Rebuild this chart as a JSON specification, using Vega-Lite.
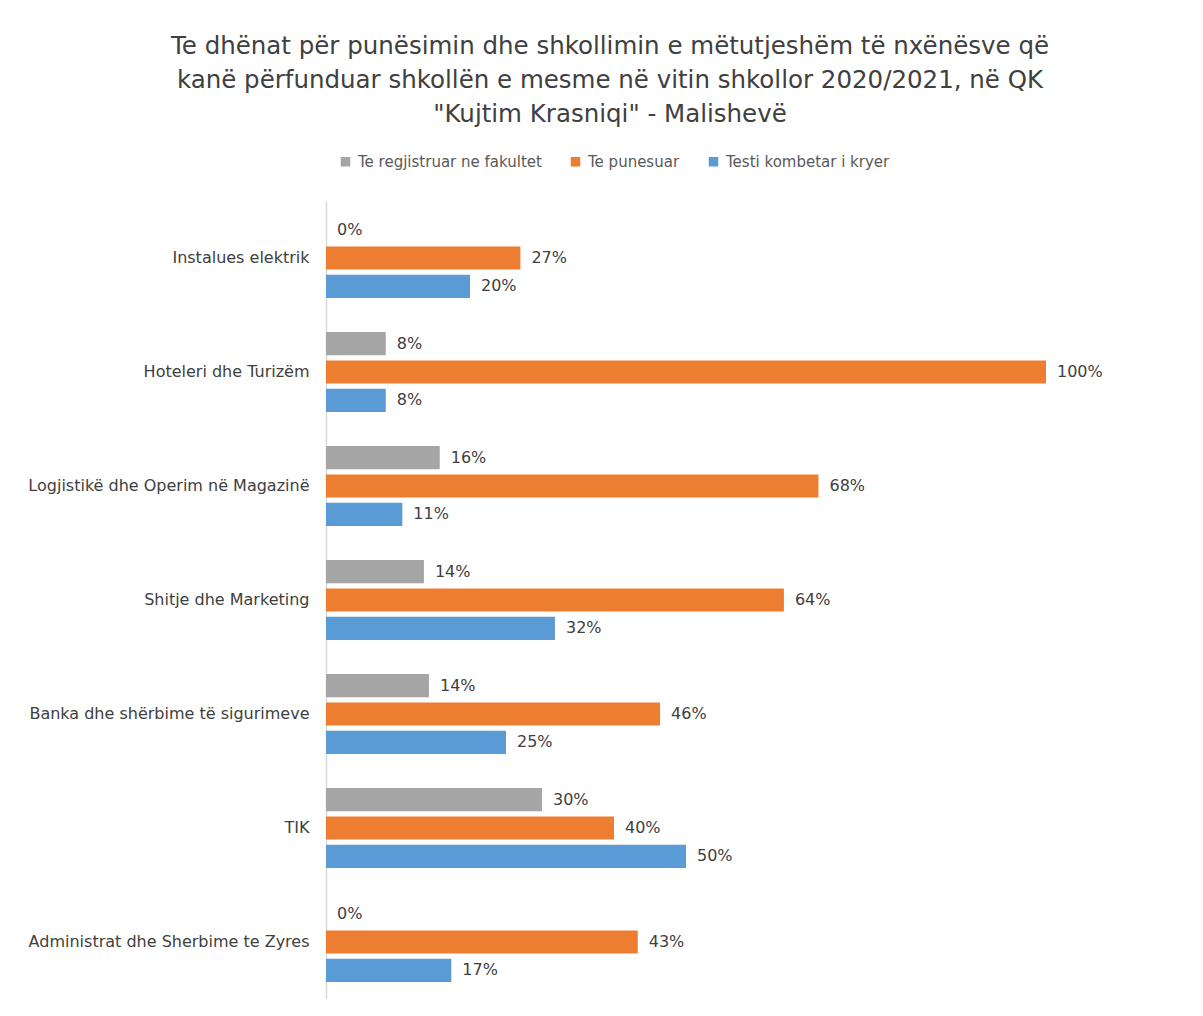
{
  "$schema": "https://vega.github.io/schema/vega-lite/v6.json",
  "width": 720,
  "height": 798,
  "autosize": "none",
  "padding": {"left": 326, "top": 201, "right": 157, "bottom": 17},
  "background": "#ffffff",
  "title": {
    "text": ["Te dhënat për punësimin dhe shkollimin e mëtutjeshëm të nxënësve që", "kanë përfunduar shkollën e mesme në vitin shkollor 2020/2021, në QK", "\"Kujtim Krasniqi\" - Malishevë"],
    "font": "DejaVu Sans",
    "fontSize": 24.5,
    "fontWeight": "normal",
    "color": "#404040",
    "lineHeight": 34,
    "anchor": "middle",
    "dx": -76,
    "offset": 27
  },
  "data": {
    "values": [
      {"category": "Instalues elektrik", "series": "Te regjistruar ne fakultet", "value": 0},
      {"category": "Instalues elektrik", "series": "Te punesuar", "value": 0.27},
      {"category": "Instalues elektrik", "series": "Testi kombetar i kryer", "value": 0.20},
      {"category": "Hoteleri dhe Turizëm", "series": "Te regjistruar ne fakultet", "value": 0.083},
      {"category": "Hoteleri dhe Turizëm", "series": "Te punesuar", "value": 1.0},
      {"category": "Hoteleri dhe Turizëm", "series": "Testi kombetar i kryer", "value": 0.083},
      {"category": "Logjistikë dhe Operim në Magazinë", "series": "Te regjistruar ne fakultet", "value": 0.158},
      {"category": "Logjistikë dhe Operim në Magazinë", "series": "Te punesuar", "value": 0.684},
      {"category": "Logjistikë dhe Operim në Magazinë", "series": "Testi kombetar i kryer", "value": 0.106},
      {"category": "Shitje dhe Marketing", "series": "Te regjistruar ne fakultet", "value": 0.136},
      {"category": "Shitje dhe Marketing", "series": "Te punesuar", "value": 0.636},
      {"category": "Shitje dhe Marketing", "series": "Testi kombetar i kryer", "value": 0.318},
      {"category": "Banka dhe shërbime të sigurimeve", "series": "Te regjistruar ne fakultet", "value": 0.143},
      {"category": "Banka dhe shërbime të sigurimeve", "series": "Te punesuar", "value": 0.464},
      {"category": "Banka dhe shërbime të sigurimeve", "series": "Testi kombetar i kryer", "value": 0.25},
      {"category": "TIK", "series": "Te regjistruar ne fakultet", "value": 0.30},
      {"category": "TIK", "series": "Te punesuar", "value": 0.40},
      {"category": "TIK", "series": "Testi kombetar i kryer", "value": 0.50},
      {"category": "Administrat dhe Sherbime te Zyres", "series": "Te regjistruar ne fakultet", "value": 0},
      {"category": "Administrat dhe Sherbime te Zyres", "series": "Te punesuar", "value": 0.433},
      {"category": "Administrat dhe Sherbime te Zyres", "series": "Testi kombetar i kryer", "value": 0.174}
    ]
  },
  "encoding": {
    "y": {
      "field": "category",
      "type": "nominal",
      "sort": ["Instalues elektrik", "Hoteleri dhe Turizëm", "Logjistikë dhe Operim në Magazinë", "Shitje dhe Marketing", "Banka dhe shërbime të sigurimeve", "TIK", "Administrat dhe Sherbime te Zyres"],
      "scale": {"paddingInner": 0.3, "paddingOuter": 0.15},
      "axis": {
        "title": null,
        "ticks": false,
        "labelFont": "DejaVu Sans",
        "labelFontSize": 16,
        "labelColor": "#404040",
        "labelPadding": 17,
        "labelLimit": 400,
        "domainColor": "#d9d9d9",
        "domainWidth": 1.5
      }
    },
    "yOffset": {
      "field": "series",
      "type": "nominal",
      "sort": ["Te regjistruar ne fakultet", "Te punesuar", "Testi kombetar i kryer"],
      "scale": {"paddingInner": 0.18, "paddingOuter": 0}
    },
    "x": {
      "field": "value",
      "type": "quantitative",
      "scale": {"domain": [0, 1]},
      "axis": null
    }
  },
  "layer": [
    {
      "mark": {"type": "bar"},
      "encoding": {
        "color": {
          "field": "series",
          "type": "nominal",
          "sort": ["Te regjistruar ne fakultet", "Te punesuar", "Testi kombetar i kryer"],
          "scale": {
            "domain": ["Te regjistruar ne fakultet", "Te punesuar", "Testi kombetar i kryer"],
            "range": ["#a5a5a5", "#ed7d31", "#5b9bd5"]
          },
          "legend": {
            "title": null,
            "orient": "none",
            "legendX": 12,
            "legendY": -47,
            "direction": "horizontal",
            "symbolType": "square",
            "symbolSize": 90,
            "symbolStrokeWidth": 0,
            "labelFont": "DejaVu Sans",
            "labelFontSize": 15,
            "labelColor": "#595959",
            "labelOffset": 5,
            "columnPadding": 26,
            "labelLimit": 300,
            "padding": 0
          }
        }
      }
    },
    {
      "mark": {"type": "text", "align": "left", "baseline": "middle", "dx": 11, "font": "DejaVu Sans", "fontSize": 16, "color": "#404040"},
      "encoding": {
        "text": {"field": "value", "type": "quantitative", "format": ".0%"}
      }
    }
  ],
  "config": {
    "view": {"stroke": null}
  }
}
